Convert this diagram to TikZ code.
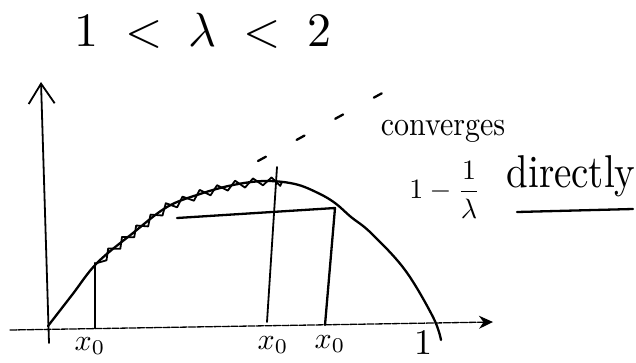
\documentclass[tikz,border=0pt]{standalone}
\usepackage{amsmath}
\usepackage{graphicx}
\usetikzlibrary{arrows.meta, positioning}

\begin{document}
\begin{tikzpicture}[x=1pt, y=-1pt,
        pen/.style={line width=2.3pt, line cap=round, line join=round},
        axisline/.style={line width=1.3pt, line cap=round},
        cobweb/.style={line width=1.8pt, line join=round, line cap=round},
        diag/.style={line width=2.3pt, line cap=round, dash pattern=on 9pt off 35pt},
        note/.style={inner sep=0pt, align=center}
    ]
        \useasboundingbox (0,0) rectangle (636,362);
        % axes
        \coordinate (orig) at (48,326);
        \coordinate (ybot) at (49,343);
        \coordinate (ytop) at (41,82);
        \coordinate (xbeg) at (10,330);
        \coordinate (xend) at (493,322);
        \draw[axisline, dash pattern=on 7pt off 1.5pt, -{Stealth[length=14pt, width=13pt]}] (xbeg) -- (xend);
        \draw[axisline, line width=1.8pt, -{Straight Barb[length=20pt, width=26pt, line width=1.8pt]}] (ybot) -- (ytop);
        % map curve
        \draw[pen] plot[smooth, tension=0.6] coordinates {(48,326) (72,295) (97,263) (133,233) (167,207) (200,194) (233,185) (265,181) (295,184) (318,193) (335,203) (351,217) (371,233) (405,270) (433,317) (441,340)};
        % steps climbing the curve
        \draw[cobweb] (97,263) -- (106.5,260.3) -- (108.2,248.4) -- (120.3,248.8) -- (122.0,236.9)
            -- (134.2,237.3) -- (136.2,225.5) -- (148.2,226.4) -- (150.5,214.6) -- (162.5,215.5)
            -- (165.8,203.2) -- (177.1,207.3) -- (182.5,196.6) -- (193.9,200.7) -- (199.7,189.9)
            -- (210.5,195.3) -- (217.1,185.2) -- (227.8,190.6) -- (235.1,180.7) -- (245.0,187.6)
            -- (253.0,178.4) -- (262.9,185.3) -- (271.6,177.4) -- (280.2,185.9) -- (282,182);
        % diagonal
        \coordinate (dbeg) at (258,161);
        \coordinate (dend) at (386,91);
        \draw[diag] (dbeg) -- (dend);
        % iterates
        \coordinate (a0) at (95,328);
        \coordinate (a1) at (95,263);
        \draw[pen] (a0) -- (a1);
        \coordinate (b0) at (267,322);
        \coordinate (b1) at (277,167);
        \draw[pen, line width=1.8pt] (b0) -- (b1);
        \coordinate (c0) at (325,325);
        \coordinate (c1) at (335,208);
        \coordinate (c2) at (177,218);
        \draw[pen] (c0) -- (c1) -- (c2);
        % texts
        \node[note] (range) at (203,31) {\scalebox{4.8}{$1\;<\;\lambda\;<\;2$}};
        \node[note] (conv) at (443,131) {\scalebox{3}[3.4]{converges}};
        \node[note] (fixpt) at (445,190) {\scalebox{2.8}{$1-\dfrac{1}{\lambda}$}};
        \node[note] (direct) at (571,176) {\scalebox{3.9}[4.6]{directly}};
        \coordinate (ulbeg) at (517,212);
        \coordinate (ulend) at (633,209);
        \draw[pen] (ulbeg) -- (ulend);
        \node[note] (lblA) at (90,346) {\scalebox{3}{$x_0$}};
        \node[note] (lblB) at (273,345) {\scalebox{3}{$x_0$}};
        \node[note] (lblC) at (330,344) {\scalebox{3}{$x_0$}};
        \node[note] (lblone) at (423,343) {\scalebox{3.6}{$1$}};
\end{tikzpicture}
\end{document}
